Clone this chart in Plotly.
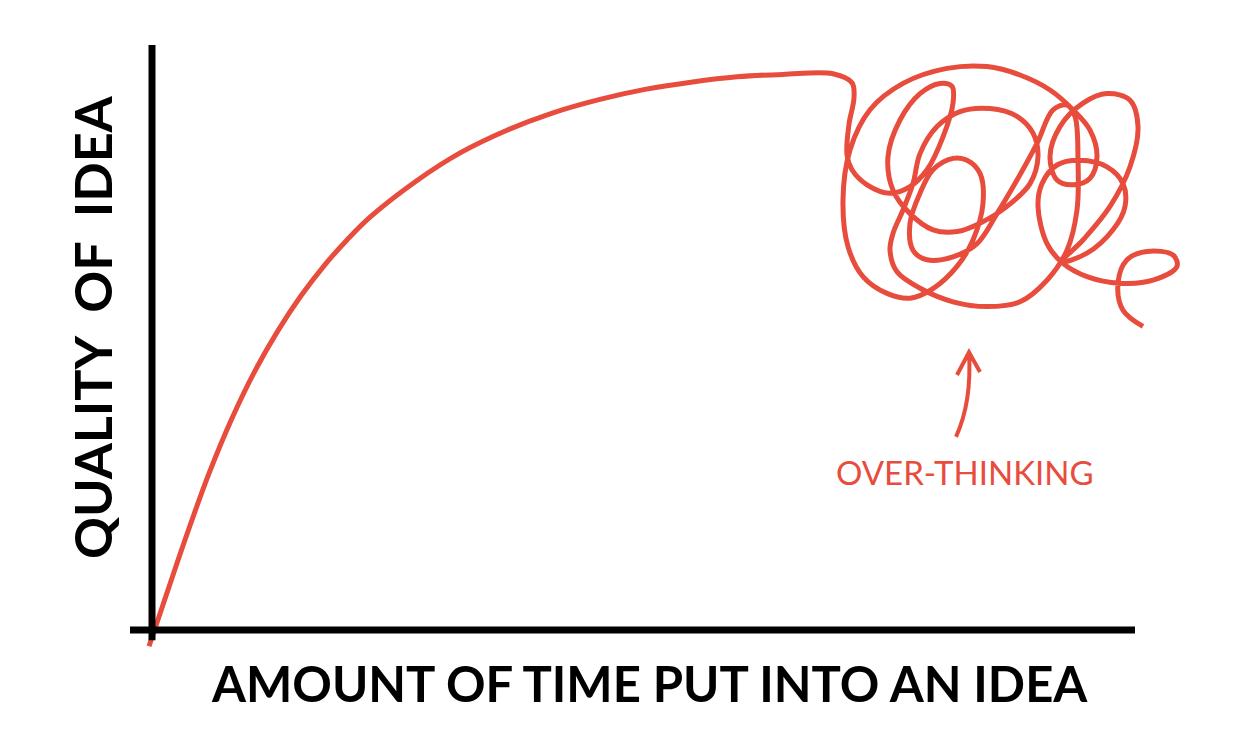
import plotly.graph_objects as go

# main curve: time put in vs quality of idea
time_spent = [-0.1, 1.3, 3.6, 5.9, 8.2, 10.5, 12.8, 15.1, 17.4, 19.7, 22.0, 26.6,
              31.1, 35.7, 40.3, 44.9, 49.5, 54.1, 58.7, 63.3, 68.3]
idea_quality = [-2.7, 4.2, 15.5, 26.1, 35.3, 43.2, 49.9, 55.7, 60.7, 65.0, 68.8, 74.8,
                79.6, 83.3, 86.2, 88.4, 90.1, 91.3, 92.2, 92.6, 92.7]

# the over-thinking scribble
scribble_x = [70.2, 70.4, 69.9, 69.7, 70.2, 71.7, 74.0, 76.0, 77.7, 79.3, 80.3, 80.2, 79.0,
              77.0, 75.0, 73.8, 74.3, 76.0, 78.3, 80.7, 83.0, 85.7, 88.0, 88.8, 88.3,
              86.7, 84.0, 81.0, 78.7, 77.0, 76.3, 75.3, 74.3, 74.0,
              74.7, 77.3, 80.3, 83.7, 87.0, 89.7, 91.7, 92.7, 92.8, 92.5, 91.7, 90.3,
              88.7, 86.7, 84.7, 82.7, 80.3, 77.7, 76.3, 76.0, 77.0, 78.3, 80.3, 81.7,
              83.0, 83.3, 82.3, 80.7, 78.3, 76.0, 73.7, 71.3, 69.8, 69.3, 70.0, 72.0,
              75.3, 79.7, 83.7, 87.0, 90.0, 92.3, 94.0, 94.7, 94.0, 92.3, 90.7, 90.0,
              91.0, 93.3, 95.7, 98.0, 98.8, 98.0, 96.0, 93.3, 91.2,
              93.7, 96.3, 97.5, 97.3, 95.7, 93.0, 90.7, 89.2, 88.8,
              89.7, 91.3, 93.7, 97.0, 100.3, 102.7, 102.3, 99.7, 97.7, 96.8, 97.3, 99.3]
scribble_y = [91.2, 88.7, 84.3, 79.2, 76.7, 74.2, 72.8, 73.9, 76.7, 82.2, 87.8, 90.6, 91.1,
              89.4, 85.0, 78.9, 73.3, 69.4, 66.7, 66.4, 67.8, 70.6, 74.4, 78.9, 82.8,
              85.6, 86.9, 86.4, 83.9, 79.4, 74.4, 70.0, 66.1, 63.3,
              59.7, 56.7, 54.7, 53.9, 54.7, 58.3, 63.3, 70.0, 78.3, 85.6, 87.5, 86.7,
              81.1, 75.0, 69.4, 64.4, 62.2, 61.7, 63.3, 67.8, 72.8, 76.7, 78.6, 78.3,
              76.1, 71.1, 65.0, 60.6, 56.9, 55.3, 56.1, 58.9, 63.9, 71.7, 80.0, 86.7,
              91.1, 93.6, 93.9, 92.5, 90.0, 86.7, 83.3, 78.9, 75.3, 74.2, 75.0, 78.9,
              83.9, 87.8, 89.4, 88.3, 83.9, 77.2, 70.6, 65.0, 61.4,
              62.8, 66.7, 70.6, 74.4, 77.2, 78.3, 77.5, 74.4, 70.6,
              64.4, 61.1, 58.9, 57.8, 58.3, 60.6, 62.5, 63.1, 61.7, 57.8, 53.3, 50.6]

RED = "#e84c3d"
HAND = "Lato, 'Open Sans', sans-serif"

fig = go.Figure()

fig.add_trace(go.Scatter(
    x=time_spent + scribble_x,
    y=idea_quality + scribble_y,
    mode="lines",
    line=dict(color=RED, width=5, shape="spline", smoothing=1.0),
    hoverinfo="skip",
    showlegend=False,
))

# hand drawn axes
fig.add_shape(type="line", x0=0.2, x1=0.2, y0=-1.7, y1=97.5,
              line=dict(color="black", width=7))
fig.add_shape(type="line", x0=-2, x1=98.5, y0=0, y1=0,
              line=dict(color="black", width=7))

# arrow pointing at the scribble
fig.add_shape(type="path",
              path="M 80.6,32.2 Q 82.2,38 81.9,46.3 M 80.7,42.5 L 81.9,46.3 L 83.0,43.0",
              line=dict(color=RED, width=4))

fig.add_annotation(x=49.9, y=-8.8, text="<b>AMOUNT OF TIME PUT INTO AN IDEA</b>",
                   showarrow=False, font=dict(family=HAND, size=49, color="black"))
fig.add_annotation(x=-5.8, y=50.5, text="<b>QUALITY  OF  IDEA</b>", textangle=-90,
                   showarrow=False, font=dict(family=HAND, size=52, color="black"))
fig.add_annotation(x=81.5, y=26.3, text="OVER-THINKING",
                   showarrow=False, font=dict(family=HAND, size=33, color=RED))

fig.update_layout(
    width=1233, height=747,
    margin=dict(l=0, r=0, t=0, b=0),
    paper_bgcolor="white", plot_bgcolor="white",
    xaxis=dict(range=[-15, 108.3], visible=False),
    yaxis=dict(range=[-19.5, 105], visible=False),
)

# drop the page's default body margin so the figure sits at 0,0
fig.write_html("out.html", config={"displayModeBar": False},
               post_script="document.body.style.margin='0';")
